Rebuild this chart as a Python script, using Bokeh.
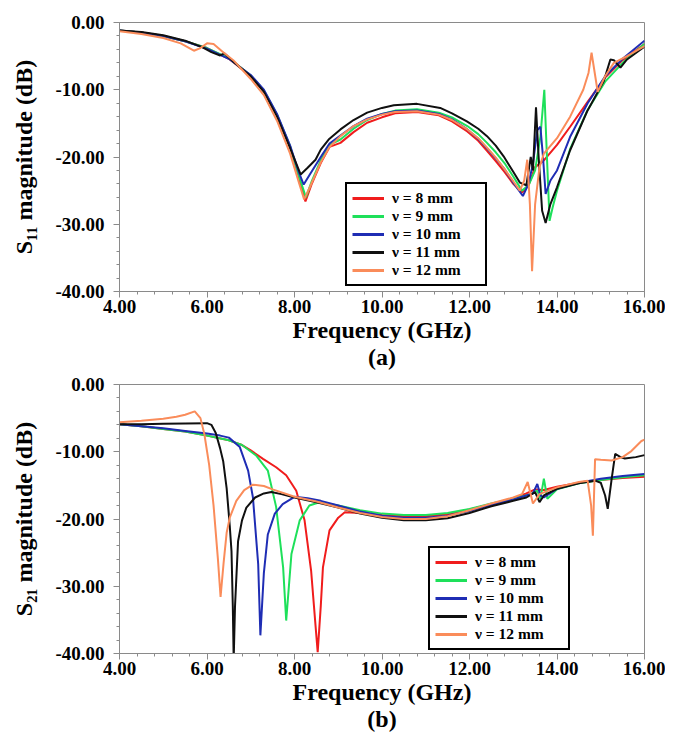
from bokeh.plotting import figure
from bokeh.layouts import column
from bokeh.models import (SingleIntervalTicker, NumeralTickFormatter,
                          Range1d, Legend, LegendItem)
from bokeh.embed import file_html
from bokeh.resources import INLINE

# ---------------- data ----------------
labels = ["ν = 8 mm", "ν = 9 mm", "ν = 10 mm", "ν = 11 mm", "ν = 12 mm"]
colors = ["#f01c1c", "#1ee05a", "#1f2db4", "#101010", "#fa8c5a"]

# (a) S11
s11_f_8 = [4.0, 4.5, 5.0, 5.5, 6.0, 6.5, 7.0, 7.3, 7.6, 7.9, 8.1, 8.25, 8.4, 8.6, 8.8, 9.05, 9.35, 9.66, 10.0, 10.3, 10.8, 11.3, 11.6, 11.95, 12.2, 12.4, 12.6, 12.8, 13.0, 13.2, 13.35, 13.5, 13.7, 14.0, 14.3, 14.7, 15.1, 15.5, 16.0]
s11_v_8 = [-1.2, -1.5, -2.0, -2.8, -3.8, -5.4, -8.0, -10.2, -13.8, -18.5, -23.0, -26.6, -23.9, -20.9, -18.5, -17.9, -16.3, -14.9, -14.1, -13.5, -13.3, -13.8, -14.7, -16.2, -17.6, -19.1, -20.6, -22.2, -24.0, -25.3, -24.2, -21.5, -20.5, -18.2, -15.5, -11.8, -8.2, -5.6, -3.2]

s11_f_9 = [4.0, 4.5, 5.0, 5.5, 6.0, 6.5, 7.0, 7.3, 7.6, 7.9, 8.1, 8.26, 8.4, 8.6, 8.8, 9.05, 9.35, 9.66, 10.0, 10.3, 10.8, 11.3, 11.6, 11.95, 12.2, 12.4, 12.6, 12.8, 13.0, 13.2, 13.35, 13.5, 13.62, 13.71, 13.77, 13.83, 13.9, 14.0, 14.3, 14.7, 15.1, 15.5, 16.0]
s11_v_9 = [-1.2, -1.5, -2.0, -2.8, -3.8, -5.3, -7.9, -10.1, -13.7, -18.4, -22.8, -26.0, -23.5, -20.5, -18.2, -17.4, -15.8, -14.5, -13.6, -13.1, -12.9, -13.4, -14.1, -15.4, -16.6, -17.9, -19.3, -20.9, -22.9, -25.0, -24.2, -22.0, -17.0, -10.0, -20.0, -29.5, -27.5, -25.0, -18.8, -13.0, -8.8, -6.0, -3.2]

s11_f_10 = [4.0, 4.5, 5.0, 5.5, 6.0, 6.5, 7.0, 7.3, 7.6, 7.9, 8.1, 8.21, 8.35, 8.6, 8.8, 9.05, 9.35, 9.66, 10.0, 10.3, 10.8, 11.3, 11.6, 11.95, 12.2, 12.4, 12.6, 12.8, 13.0, 13.22, 13.35, 13.45, 13.55, 13.62, 13.68, 13.74, 13.85, 14.0, 14.3, 14.7, 15.1, 15.5, 16.0]
s11_v_10 = [-1.2, -1.5, -2.0, -2.8, -3.9, -5.4, -7.8, -10.0, -13.6, -18.3, -22.3, -24.1, -22.6, -20.0, -18.0, -16.8, -15.4, -14.3, -13.6, -13.2, -13.1, -13.6, -14.4, -15.9, -17.3, -18.7, -20.2, -21.8, -23.8, -25.8, -24.0, -21.0, -16.0, -15.5, -20.0, -25.5, -23.5, -22.0, -17.0, -12.0, -8.0, -5.4, -2.7]

s11_f_11 = [4.0, 4.5, 5.0, 5.5, 5.9, 6.1, 6.3, 6.4, 6.6, 7.0, 7.3, 7.6, 7.9, 8.14, 8.3, 8.48, 8.6, 8.78, 9.05, 9.35, 9.66, 10.0, 10.27, 10.8, 11.33, 11.6, 11.94, 12.2, 12.4, 12.6, 12.78, 13.0, 13.15, 13.3, 13.4, 13.45, 13.52, 13.58, 13.66, 13.74, 13.85, 14.0, 14.3, 14.69, 15.07, 15.22, 15.3, 15.45, 15.6, 16.0]
s11_v_11 = [-1.2, -1.4, -1.9, -2.7, -3.7, -4.4, -4.9, -4.6, -5.8, -8.0, -10.3, -14.0, -18.7, -22.6, -21.6, -20.4, -18.9, -17.4, -15.9, -14.5, -13.4, -12.7, -12.3, -12.1, -12.7, -13.5, -14.7, -15.8, -16.9, -18.3, -19.9, -22.2, -23.8, -24.2, -20.0, -22.0, -12.6, -20.0, -28.0, -29.8, -27.0, -24.5, -19.0, -13.2, -8.7, -5.5, -5.6, -6.7, -5.5, -3.6]

s11_f_12 = [4.0, 4.5, 5.0, 5.4, 5.7, 5.85, 6.0, 6.15, 6.35, 6.6, 7.0, 7.3, 7.6, 7.9, 8.1, 8.22, 8.35, 8.6, 8.8, 9.05, 9.35, 9.66, 10.0, 10.3, 10.8, 11.3, 11.6, 11.95, 12.2, 12.4, 12.6, 12.8, 13.0, 13.15, 13.25, 13.32, 13.38, 13.43, 13.5, 13.6, 13.7, 14.0, 14.3, 14.6, 14.72, 14.79, 14.93, 15.1, 15.3, 15.6, 16.0]
s11_v_12 = [-1.3, -1.7, -2.3, -3.1, -4.2, -3.8, -3.1, -3.2, -4.3, -5.6, -8.4, -10.8, -14.6, -19.5, -23.8, -26.3, -24.5, -20.8, -18.5, -16.9, -15.4, -14.4, -13.7, -13.3, -13.2, -13.7, -14.5, -15.9, -17.2, -18.6, -20.1, -21.8, -23.6, -25.0, -23.5, -20.4, -27.0, -37.0, -27.0, -21.5, -19.5, -17.2, -14.0, -10.0, -7.5, -4.5, -10.3, -8.0, -6.0, -5.0, -3.5]

# (b) S21
s21_f_8 = [4.0, 4.5, 5.0, 5.5, 6.0, 6.5, 6.8, 7.0, 7.28, 7.58, 7.81, 8.04, 8.23, 8.38, 8.47, 8.53, 8.6, 8.65, 8.8, 9.0, 9.15, 9.5, 10.0, 10.5, 11.0, 11.5, 12.0, 12.5, 13.0, 13.3, 13.5, 13.7, 14.0, 14.5, 15.0, 15.5, 16.0]
s21_v_8 = [-5.9, -6.2, -6.6, -7.0, -7.6, -8.3, -9.0, -9.8, -11.05, -12.3, -13.5, -15.8, -20.2, -27.7, -35.0, -39.8, -33.0, -27.2, -21.7, -19.8, -19.0, -19.1, -19.4, -19.6, -19.6, -19.3, -18.6, -17.8, -16.9, -16.2, -15.6, -15.7, -15.2, -14.6, -14.2, -13.9, -13.7]

s21_f_9 = [4.0, 4.5, 5.0, 5.5, 6.0, 6.5, 6.8, 7.13, 7.39, 7.58, 7.74, 7.81, 7.93, 8.12, 8.34, 8.57, 9.0, 9.5, 10.0, 10.5, 11.0, 11.5, 12.0, 12.5, 13.0, 13.4, 13.55, 13.62, 13.7, 13.78, 14.0, 14.5, 15.0, 15.5, 16.0]
s21_v_9 = [-5.9, -6.2, -6.6, -7.0, -7.6, -8.3, -9.0, -10.6, -12.8, -18.2, -27.2, -35.1, -25.2, -20.2, -18.0, -17.5, -18.0, -18.7, -19.2, -19.4, -19.4, -19.1, -18.5, -17.7, -17.0, -16.3, -15.8, -17.0, -14.0, -17.0, -15.6, -14.7, -14.2, -13.8, -13.5]

s21_f_10 = [4.0, 4.5, 5.0, 5.5, 6.0, 6.3, 6.5, 6.75, 6.94, 7.05, 7.17, 7.22, 7.3, 7.39, 7.55, 7.73, 8.0, 8.3, 8.6, 9.0, 9.5, 10.0, 10.5, 11.0, 11.5, 12.0, 12.5, 13.0, 13.3, 13.45, 13.55, 13.62, 13.7, 14.0, 14.5, 15.0, 15.5, 16.0]
s21_v_10 = [-5.9, -6.2, -6.5, -6.9, -7.3, -7.6, -7.9, -9.3, -12.8, -16.8, -26.7, -37.3, -28.0, -22.3, -19.2, -17.8, -16.7, -16.9, -17.3, -18.0, -18.9, -19.5, -19.8, -19.8, -19.5, -18.8, -17.9, -17.1, -16.5, -16.2, -14.8, -16.5, -16.8, -15.5, -14.6, -14.0, -13.6, -13.3]

s21_f_11 = [4.0, 4.5, 5.0, 5.5, 6.0, 6.1, 6.2, 6.3, 6.37, 6.45, 6.52, 6.56, 6.59, 6.61, 6.64, 6.71, 6.8, 6.9, 7.1, 7.3, 7.47, 7.7, 8.0, 8.5, 9.0, 9.5, 10.0, 10.5, 11.0, 11.5, 12.0, 12.5, 13.0, 13.3, 13.5, 13.6, 13.7, 14.0, 14.5, 14.87, 15.0, 15.1, 15.16, 15.25, 15.33, 15.45, 15.55, 15.8, 16.0]
s21_v_11 = [-5.9, -5.9, -5.85, -5.8, -5.75, -6.0, -7.2, -9.5, -11.4, -15.5, -21.0, -24.8, -33.0, -41.0, -33.0, -23.3, -20.2, -18.3, -16.8, -16.2, -16.0, -16.3, -16.8, -17.5, -18.3, -19.2, -19.8, -20.2, -20.2, -19.9, -19.1, -18.1, -17.3, -16.8, -16.0, -17.5, -16.5, -15.5, -14.7, -14.3, -14.6, -16.5, -18.5, -14.0, -10.3, -10.8, -11.0, -10.8, -10.5]

s21_f_12 = [4.0, 4.5, 5.0, 5.3, 5.5, 5.72, 5.85, 5.94, 6.05, 6.15, 6.25, 6.31, 6.38, 6.45, 6.52, 6.67, 6.85, 7.05, 7.3, 7.5, 8.0, 8.5, 9.0, 9.5, 10.0, 10.5, 11.0, 11.5, 12.0, 12.5, 13.0, 13.2, 13.33, 13.45, 13.6, 14.0, 14.5, 14.7, 14.78, 14.82, 14.87, 15.0, 15.25, 15.5, 15.7, 15.93, 16.0]
s21_v_12 = [-5.6, -5.4, -5.1, -4.8, -4.5, -4.0, -5.0, -7.4, -12.0, -18.0, -26.0, -31.6, -26.5, -22.0, -19.8, -17.3, -15.7, -14.9, -15.1, -15.6, -16.7, -17.4, -18.3, -19.1, -19.7, -20.0, -20.0, -19.6, -18.7, -17.7, -16.8, -16.3, -14.5, -17.7, -16.3, -15.3, -14.5, -14.3, -18.0, -22.5, -11.1, -11.2, -11.3, -10.8, -9.9, -8.4, -8.2]

x_ticks_interval = 2
y_ticks_interval = 10

s11_series = [(s11_f_8, s11_v_8), (s11_f_9, s11_v_9), (s11_f_10, s11_v_10),
              (s11_f_11, s11_v_11), (s11_f_12, s11_v_12)]
s21_series = [(s21_f_8, s21_v_8), (s21_f_9, s21_v_9), (s21_f_10, s21_v_10),
              (s21_f_11, s21_v_11), (s21_f_12, s21_v_12)]

FONT = "Liberation Serif"


def make_fig(series, ylabel, tag, height, top, bottom, legend_loc):
    p = figure(width=665, height=height, output_backend="svg",
               toolbar_location=None, x_range=Range1d(4, 16),
               y_range=Range1d(-40, 0),
               min_border_left=119, min_border_right=21,
               min_border_top=top, min_border_bottom=bottom)
    p.outline_line_color = "#8a8a8a"
    p.outline_line_width = 1
    p.outline_line_alpha = 1
    p.xgrid.visible = False
    p.ygrid.visible = False
    p.background_fill_color = "white"
    p.border_fill_color = "white"

    for (f, v), c in zip(series, colors):
        p.line(f, v, line_color=c, line_width=2)

    items = []
    for lab, c in zip(labels, colors):
        # legend sample renderers, kept outside the visible range
        r = p.line([-10, -9], [100, 100], line_color=c, line_width=3)
        items.append(LegendItem(label=lab, renderers=[r]))
    leg = Legend(items=items, location=legend_loc)
    leg.border_line_color = "black"
    leg.border_line_width = 2
    leg.border_line_alpha = 1
    leg.label_text_font = FONT
    leg.label_text_font_style = "bold"
    leg.label_text_font_size = "15.5px"
    leg.label_text_line_height = 1.0
    leg.label_text_color = "black"
    leg.glyph_width = 32
    leg.glyph_height = 16
    leg.label_height = 16
    leg.label_width = 88
    leg.label_standoff = 8
    leg.spacing = 0
    leg.padding = 5
    leg.margin = 0
    leg.background_fill_alpha = 1
    p.add_layout(leg, "center")

    for ax in (p.xaxis[0], p.yaxis[0]):
        ax.axis_line_color = "#8a8a8a"
        ax.major_tick_line_color = "#8a8a8a"
        ax.minor_tick_line_color = "#8a8a8a"
        ax.major_tick_out = 6
        ax.major_tick_in = 0
        ax.minor_tick_out = 3
        ax.minor_tick_in = 0
        ax.major_label_text_font = FONT
        ax.major_label_text_font_style = "bold"
        ax.major_label_text_font_size = "19px"
        ax.major_label_text_color = "black"
        ax.axis_label_text_font = FONT
        ax.axis_label_text_font_style = "bold"
        ax.axis_label_text_font_size = "24px"
        ax.axis_label_text_color = "black"
        ax.formatter = NumeralTickFormatter(format="0.00")

    p.xaxis[0].ticker = SingleIntervalTicker(interval=x_ticks_interval, num_minor_ticks=5)
    p.yaxis[0].ticker = SingleIntervalTicker(interval=y_ticks_interval, num_minor_ticks=5)
    p.xaxis[0].axis_label = "Frequency (GHz)\n" + tag
    p.xaxis[0].axis_label_text_line_height = 1.05
    p.xaxis[0].major_label_standoff = 2
    p.xaxis[0].axis_label_standoff = 1
    p.yaxis[0].axis_label = ylabel
    p.yaxis[0].major_label_standoff = 9
    p.yaxis[0].axis_label_standoff = 15
    return p


p1 = make_fig(s11_series, "S₁₁ magnitude (dB)", "(a)", 372, 22, 81, (226, 5))
p2 = make_fig(s21_series, "S₂₁ magnitude (dB)", "(b)", 362, 12, 81, (309, 3))

layout = column(p1, p2, spacing=0)
open("out.html", "w").write(file_html(layout, INLINE))
